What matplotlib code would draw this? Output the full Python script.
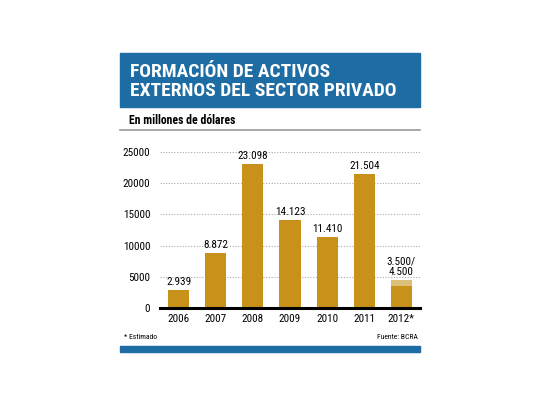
import matplotlib
matplotlib.use("Agg")
import matplotlib.pyplot as plt
from matplotlib.patches import Rectangle

years = ["2006", "2007", "2008", "2009", "2010", "2011", "2012*"]
values = [2939, 8872, 23098, 14123, 11410, 21504, 3500]
labels = ["2.939", "8.872", "23.098", "14.123", "11.410", "21.504", "3.500/\n4.500"]
estimate_top = 4500  # upper bound for 2012
yticks = [0, 5000, 10000, 15000, 20000, 25000]

GOLD = "#c8921a"
LIGHT = "#dcc07a"
BLUE = "#1d6ca3"

plt.rcParams["font.family"] = ["Roboto Condensed", "DejaVu Sans"]

W, H = 540, 405
fig = plt.figure(figsize=(W / 100, H / 100), dpi=100)

def fx(px):
    return px / W

def fy(py):
    return 1 - py / H

# title box
fig.patches.append(Rectangle((fx(120), fy(107)), fx(300), (107 - 53) / H,
                             transform=fig.transFigure, color=BLUE, zorder=0))
fig.text(fx(130), fy(72), "FORMACIÓN DE ACTIVOS", color="white", fontsize=14,
         fontweight="bold", va="center", ha="left")
fig.text(fx(130), fy(91), "EXTERNOS DEL SECTOR PRIVADO", color="white", fontsize=14,
         fontweight="bold", va="center", ha="left")

# subtitle + rule
fig.text(fx(129), fy(121), "En millones de dólares", fontsize=8.5, fontweight="bold",
         va="center", ha="left")
fig.lines.append(plt.Line2D([fx(120), fx(420)], [fy(129.5), fy(129.5)],
                            transform=fig.transFigure, color="#9a9a9a", lw=1.2))

# chart
ax = fig.add_axes([fx(160), fy(308), fx(260), (308 - 147) / H])
x = range(len(years))
ax.bar(x, values, width=0.57, color=GOLD, zorder=2)
ax.bar(6, estimate_top - values[6], bottom=values[6], width=0.57,
       color=LIGHT, zorder=2)

for i, (v, lab) in enumerate(zip(values, labels)):
    top = estimate_top if i == 6 else v
    ax.text(i, top + 450, lab, ha="center", va="bottom", fontsize=8,
            linespacing=1.05)

ax.set_xlim(-0.5, 6.5)
ax.set_ylim(0, 25800)
ax.set_yticks(yticks)
ax.set_yticklabels([str(t) for t in yticks])
ax.set_xticks(list(x))
ax.set_xticklabels(years)
ax.tick_params(length=0, labelsize=8, pad=4)
ax.tick_params(axis="y", pad=7)
ax.grid(axis="y", color="#aaaaaa", linestyle=(0, (1, 1.5)), lw=0.8, zorder=0)
for s in ["top", "right", "left"]:
    ax.spines[s].set_visible(False)
ax.spines["bottom"].set_linewidth(2.2)
ax.spines["bottom"].set_zorder(3)

# footer
fig.text(fx(124), fy(337), "* Estimado", fontsize=5.5, va="center", ha="left")
fig.text(fx(418), fy(337), "Fuente: BCRA", fontsize=5.5, va="center", ha="right")
fig.patches.append(Rectangle((fx(120), fy(352)), fx(300), 6 / H,
                             transform=fig.transFigure, color=BLUE, zorder=0))

fig.savefig("out.png", dpi=100)
